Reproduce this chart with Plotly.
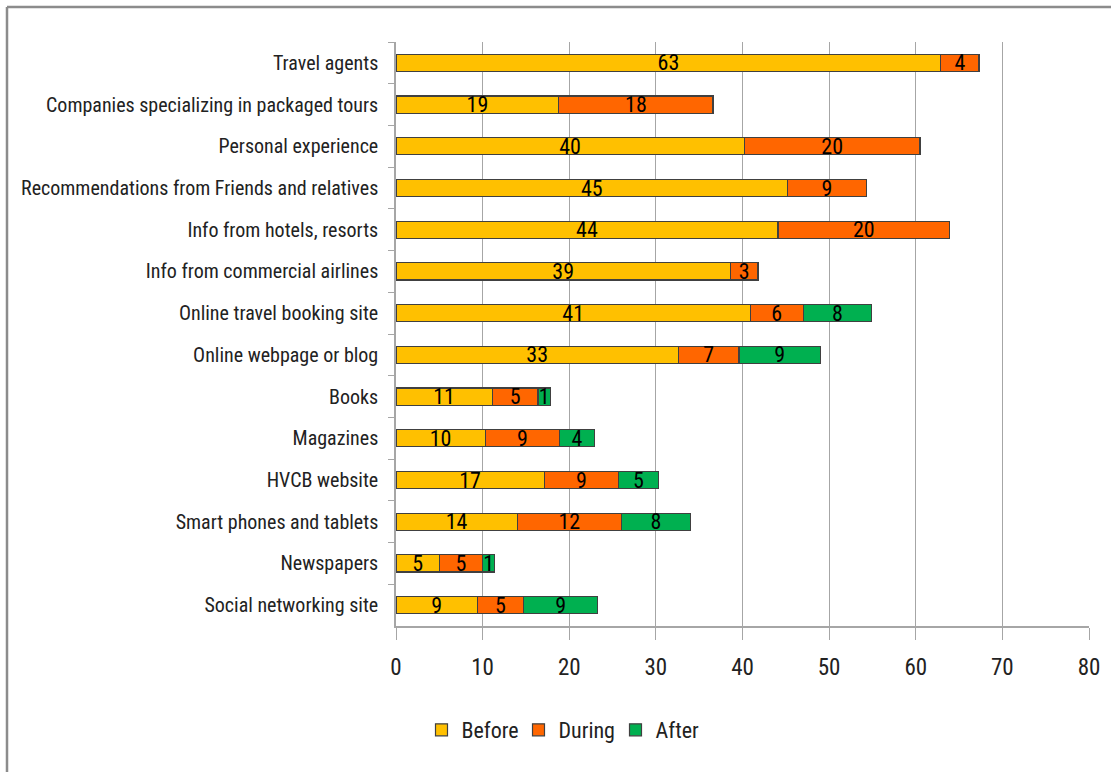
import plotly.graph_objects as go

categories = [
    "Travel agents",
    "Companies specializing in packaged tours",
    "Personal experience",
    "Recommendations from Friends and relatives",
    "Info from hotels, resorts",
    "Info from commercial airlines",
    "Online travel booking site",
    "Online webpage or blog",
    "Books",
    "Magazines",
    "HVCB website",
    "Smart phones and tablets",
    "Newspapers",
    "Social networking site",
]
before = [62.9, 18.8, 40.2, 45.2, 44.1, 38.6, 40.9, 32.6, 11.1, 10.3, 17.1, 14.0, 5.0, 9.4]
during = [4.4, 17.8, 20.3, 9.1, 19.8, 3.2, 6.1, 7.0, 5.3, 8.6, 8.6, 12.0, 5.0, 5.3]
after = [None, None, None, None, None, None, 7.9, 9.4, 1.4, 4.0, 4.6, 8.0, 1.4, 8.6]

x_ticks = [0, 10, 20, 30, 40, 50, 60, 70, 80]

series = [("Before", before, "#FFC000"), ("During", during, "#FF6600"), ("After", after, "#00B050")]

FONT = "Roboto Condensed, Liberation Sans Narrow, Arial Narrow, Roboto, sans-serif"

W, H = 1111, 772
ML, MR, MT, MB = 396, 22, 42, 146
PW, PH = W - ML - MR, H - MT - MB


def px2paper(px, py):
    return (px - ML) / PW, (H - MB - py) / PH


fig = go.Figure()
for name, vals, col in series:
    fig.add_trace(go.Bar(
        y=categories, x=vals, name=name, orientation="h",
        marker=dict(color=col, line=dict(color="#404040", width=1.2)),
        texttemplate="%{x:.0f}", textposition="inside", insidetextanchor="middle",
        textangle=0, textfont=dict(family=FONT, size=22, color="#000000"),
        hoverinfo="x+y+name",
    ))

x0, y0 = px2paper(7, 7)
x1, _ = px2paper(W, 7)
_, yb = px2paper(7, H)
lx, ly = px2paper(567, 730)

fig.update_layout(
    width=W, height=H,
    barmode="stack", bargap=0.59,
    plot_bgcolor="white", paper_bgcolor="white",
    margin=dict(l=ML, r=MR, t=MT, b=MB, pad=0, autoexpand=False),
    font=dict(family=FONT, size=20, color="#222222"),
    showlegend=True,
    legend=dict(orientation="h", x=lx, y=ly, xanchor="center", yanchor="middle",
                font=dict(family=FONT, size=22, color="#222222"), traceorder="normal",
                itemwidth=30, entrywidth=52, entrywidthmode="pixels",
                bgcolor="rgba(0,0,0,0)"),
    uniformtext=dict(minsize=22, mode="show"),
    xaxis=dict(range=[0, 80], tickvals=x_ticks, showgrid=True, gridcolor="#A6A6A6", gridwidth=1,
               showline=True, linecolor="#A6A6A6", linewidth=1.5, ticks="outside", ticklen=12,
               tickcolor="#A6A6A6", tickfont=dict(family=FONT, size=23, color="#222222"),
               zeroline=False, fixedrange=True, ticklabelstandoff=8),
    yaxis=dict(categoryorder="array", categoryarray=categories, autorange="reversed",
               showline=True, linecolor="#A6A6A6", linewidth=1.5, ticks="outside", ticklen=6,
               tickcolor="#A6A6A6", tickson="boundaries", showgrid=False,
               tickfont=dict(family=FONT, size=20, color="#222222"), ticklabelstandoff=12,
               fixedrange=True),
    shapes=[
        dict(type="line", xref="paper", yref="paper", x0=x0, y0=y0, x1=x1, y1=y0,
             line=dict(color="#8C8C8C", width=2.5)),
        dict(type="line", xref="paper", yref="paper", x0=x0, y0=y0, x1=x0, y1=yb,
             line=dict(color="#8C8C8C", width=2.5)),
    ],
)

fig.write_html("out.html")
